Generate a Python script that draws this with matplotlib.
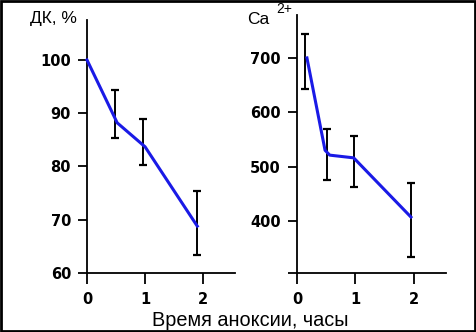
import matplotlib
matplotlib.use("Agg")
import matplotlib.pyplot as plt
import numpy as np

# Left panel: ДК, %
dk_line_x = [0.0, 0.52, 1.0, 1.9]
dk_line_y = [100.0, 88.2, 83.7, 68.8]
dk_err_x = [0.48, 0.96, 1.9]
dk_err_lo = [85.4, 80.3, 63.4]
dk_err_hi = [94.4, 88.9, 75.4]

# Right panel: Ca2+
ca_line_x = [0.17, 0.48, 0.56, 0.97, 1.95]
ca_line_y = [700, 530, 521, 516, 407]
ca_err_x = [0.14, 0.51, 0.97, 1.95]
ca_err_lo = [643, 475, 462, 334]
ca_err_hi = [744, 569, 556, 470]

x_ticks = [0, 1, 2]
dk_ticks = [60, 70, 80, 90, 100]
ca_ticks = [400, 500, 600, 700]

fig = plt.figure(figsize=(4.76, 3.32), dpi=100)
fig.patch.set_facecolor("white")

W, H = 476, 332
def pos(x0, x1, ytop, ybot):
    return [x0 / W, 1 - ybot / H, (x1 - x0) / W, (ybot - ytop) / H]

axL = fig.add_axes(pos(87, 235, 20, 273))
axR = fig.add_axes(pos(297, 446, 15, 273))

line_col = "#1a1ae6"

def style(ax):
    for s in ["top", "right"]:
        ax.spines[s].set_visible(False)
    for s in ["left", "bottom"]:
        ax.spines[s].set_linewidth(1.3)
    ax.tick_params(axis="x", direction="out", length=8, width=1.3, pad=6)
    ax.tick_params(axis="y", direction="out", length=6.5, width=1.3, pad=5)
    for lab in ax.get_xticklabels() + ax.get_yticklabels():
        lab.set_fontfamily("DejaVu Sans")
        lab.set_fontweight("bold")
        lab.set_fontsize(10.5)

def errbars(ax, xs, lo, hi):
    lo = np.array(lo, float); hi = np.array(hi, float)
    mid = (lo + hi) / 2
    ax.errorbar(xs, mid, yerr=[mid - lo, hi - mid], fmt="none", ecolor="black",
                elinewidth=1.4, capsize=2.6, capthick=1.6, zorder=2)

# Left
axL.plot(dk_line_x, dk_line_y, color=line_col, lw=2.2, zorder=3, clip_on=False)
errbars(axL, dk_err_x, dk_err_lo, dk_err_hi)
axL.set_xlim(0, 2.55)
axL.set_ylim(60, 107.5)
axL.set_xticks(x_ticks)
axL.set_yticks(dk_ticks)
style(axL)

# Right
axR.plot(ca_line_x, ca_line_y, color=line_col, lw=2.2, zorder=3, clip_on=False)
errbars(axR, ca_err_x, ca_err_lo, ca_err_hi)
axR.set_xlim(0, 2.55)
axR.set_ylim(304, 779)
axR.set_xticks(x_ticks)
axR.set_yticks([304] + ca_ticks)
axR.set_yticklabels([""] + [str(t) for t in ca_ticks])
style(axR)

# Titles / labels
fig.text(30 / W, 1 - 19 / H, "ДК, %", family="Liberation Sans", size=12.5,
         ha="left", va="center")
fig.text(247 / W, 1 - 19 / H, "Ca", family="Liberation Sans", size=12.5,
         ha="left", va="center")
fig.text(276 / W, 1 - 9 / H, "2+", family="Liberation Sans", size=10,
         ha="left", va="center")
fig.text(250 / W, 1 - 320 / H, "Время аноксии, часы", family="Liberation Sans",
         size=14.3, ha="center", va="center")

# frame around the image
fig.add_artist(plt.Rectangle((0.002, 0.003), 0.996, 0.994, transform=fig.transFigure,
                             fill=False, edgecolor="black", lw=2))

fig.savefig("out.png", dpi=100, facecolor="white")
